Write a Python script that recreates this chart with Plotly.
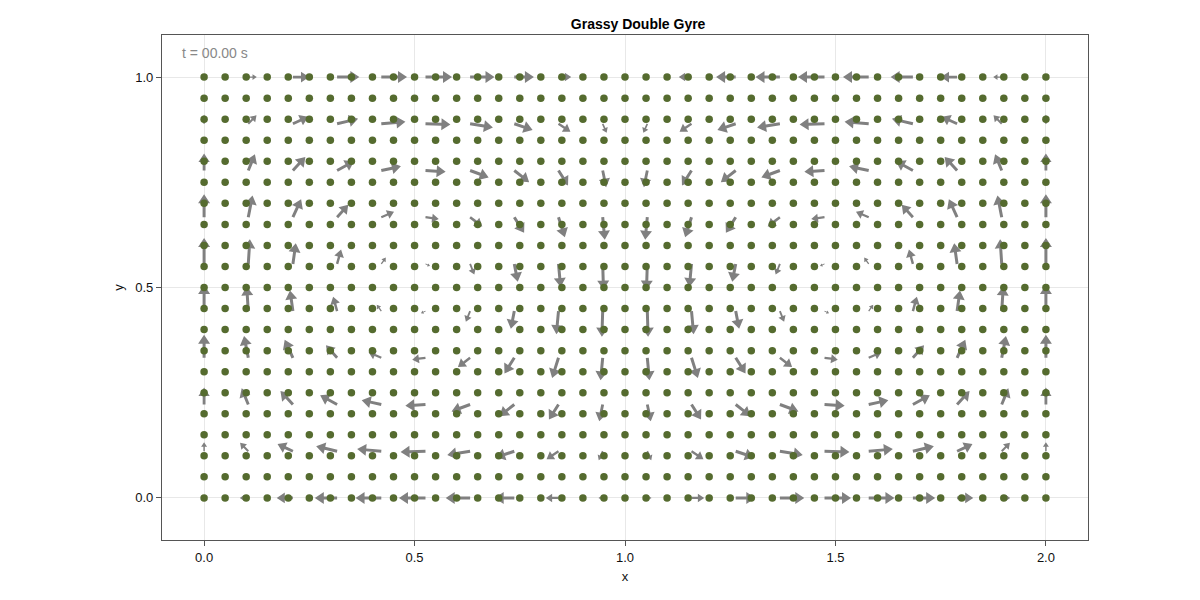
import math
import plotly.graph_objects as go

# ---------------- data ----------------
# background "grass" dots grid
dot_x = [0.00, 0.05, 0.10, 0.15, 0.20, 0.25, 0.30, 0.35, 0.40, 0.45, 0.50,
         0.55, 0.60, 0.65, 0.70, 0.75, 0.80, 0.85, 0.90, 0.95, 1.00,
         1.05, 1.10, 1.15, 1.20, 1.25, 1.30, 1.35, 1.40, 1.45, 1.50,
         1.55, 1.60, 1.65, 1.70, 1.75, 1.80, 1.85, 1.90, 1.95, 2.00]
dot_y = [0.00, 0.05, 0.10, 0.15, 0.20, 0.25, 0.30, 0.35, 0.40, 0.45, 0.50,
         0.55, 0.60, 0.65, 0.70, 0.75, 0.80, 0.85, 0.90, 0.95, 1.00]

# arrow origins
arrow_x = [0.000, 0.105, 0.211, 0.316, 0.421, 0.526, 0.632, 0.737, 0.842, 0.947,
           1.053, 1.158, 1.263, 1.368, 1.474, 1.579, 1.684, 1.789, 1.895, 2.000]
arrow_y = [0.000, 0.111, 0.222, 0.333, 0.444, 0.556, 0.667, 0.778, 0.889, 1.000]

# velocity components, one row per arrow_y value
U = [
    [0, -0.32, -0.61, -0.84, -0.97, -1.00, -0.92, -0.74, -0.48, -0.16, 0.16, 0.48, 0.74, 0.92, 1.00, 0.97, 0.84, 0.61, 0.32, 0],
    [0, -0.31, -0.58, -0.79, -0.91, -0.94, -0.86, -0.69, -0.45, -0.15, 0.15, 0.45, 0.69, 0.86, 0.94, 0.91, 0.79, 0.58, 0.31, 0],
    [0, -0.25, -0.47, -0.64, -0.74, -0.76, -0.70, -0.56, -0.36, -0.13, 0.13, 0.36, 0.56, 0.70, 0.76, 0.74, 0.64, 0.47, 0.25, 0],
    [0, -0.16, -0.31, -0.42, -0.48, -0.50, -0.46, -0.37, -0.24, -0.08, 0.08, 0.24, 0.37, 0.46, 0.50, 0.48, 0.42, 0.31, 0.16, 0],
    [0, -0.06, -0.11, -0.15, -0.17, -0.17, -0.16, -0.13, -0.08, -0.03, 0.03, 0.08, 0.13, 0.16, 0.17, 0.17, 0.15, 0.11, 0.06, 0],
    [0, 0.06, 0.11, 0.15, 0.17, 0.17, 0.16, 0.13, 0.08, 0.03, -0.03, -0.08, -0.13, -0.16, -0.17, -0.17, -0.15, -0.11, -0.06, 0],
    [0, 0.16, 0.31, 0.42, 0.48, 0.50, 0.46, 0.37, 0.24, 0.08, -0.08, -0.24, -0.37, -0.46, -0.50, -0.48, -0.42, -0.31, -0.16, 0],
    [0, 0.25, 0.47, 0.64, 0.74, 0.76, 0.70, 0.56, 0.36, 0.13, -0.13, -0.36, -0.56, -0.70, -0.76, -0.74, -0.64, -0.47, -0.25, 0],
    [0, 0.31, 0.58, 0.79, 0.91, 0.94, 0.86, 0.69, 0.45, 0.15, -0.15, -0.45, -0.69, -0.86, -0.94, -0.91, -0.79, -0.58, -0.31, 0],
    [0, 0.32, 0.61, 0.84, 0.97, 1.00, 0.92, 0.74, 0.48, 0.16, -0.16, -0.48, -0.74, -0.92, -1.00, -0.97, -0.84, -0.61, -0.32, 0],
]
V = [
    [0] * 20,
    [0.34, 0.32, 0.27, 0.19, 0.08, -0.03, -0.14, -0.23, -0.30, -0.34, -0.34, -0.30, -0.23, -0.14, -0.03, 0.08, 0.19, 0.27, 0.32, 0.34],
    [0.64, 0.61, 0.51, 0.35, 0.16, -0.05, -0.26, -0.44, -0.57, -0.63, -0.63, -0.57, -0.44, -0.26, -0.05, 0.16, 0.35, 0.51, 0.61, 0.64],
    [0.87, 0.82, 0.68, 0.47, 0.21, -0.07, -0.35, -0.59, -0.76, -0.85, -0.85, -0.76, -0.59, -0.35, -0.07, 0.21, 0.47, 0.68, 0.82, 0.87],
    [0.98, 0.93, 0.78, 0.54, 0.24, -0.08, -0.40, -0.67, -0.87, -0.97, -0.97, -0.87, -0.67, -0.40, -0.08, 0.24, 0.54, 0.78, 0.93, 0.98],
    [0.98, 0.93, 0.78, 0.54, 0.24, -0.08, -0.40, -0.67, -0.87, -0.97, -0.97, -0.87, -0.67, -0.40, -0.08, 0.24, 0.54, 0.78, 0.93, 0.98],
    [0.87, 0.82, 0.68, 0.47, 0.21, -0.07, -0.35, -0.59, -0.76, -0.85, -0.85, -0.76, -0.59, -0.35, -0.07, 0.21, 0.47, 0.68, 0.82, 0.87],
    [0.64, 0.61, 0.51, 0.35, 0.16, -0.05, -0.26, -0.44, -0.57, -0.63, -0.63, -0.57, -0.44, -0.26, -0.05, 0.16, 0.35, 0.51, 0.61, 0.64],
    [0.34, 0.32, 0.27, 0.19, 0.08, -0.03, -0.14, -0.23, -0.30, -0.34, -0.34, -0.30, -0.23, -0.14, -0.03, 0.08, 0.19, 0.27, 0.32, 0.34],
    [0] * 20,
]

x_ticks = [0.0, 0.5, 1.0, 1.5, 2.0]
y_ticks = [0.0, 0.5, 1.0]
title_text = "Grassy Double Gyre"
time_label = "t = 00.00 s"

# ---------------- layout constants ----------------
W, H = 1200, 600
# the page body adds an 8px offset, margins compensate for it
ML, MR, MT, MB = 154, 120, 27, 68
XR = [-0.1, 2.1]
YR = [-0.1, 1.1]
PXX = (W - ML - MR) / (XR[1] - XR[0])   # px per data unit (x)
PXY = (H - MT - MB) / (YR[1] - YR[0])   # px per data unit (y)

LENGTHSCALE = 0.063   # data units per unit of velocity
TIPLEN, TIPW, SHAFTW, MINSHAFT = 9.0, 12.0, 3.0, 9.0

# build arrow polygons (pixel-space geometry mapped back to data units)
ax_poly, ay_poly = [], []
for j, y0 in enumerate(arrow_y):
    for i, x0 in enumerate(arrow_x):
        u, v = U[j][i], V[j][i]
        m = math.hypot(u, v)
        if m == 0:
            continue
        L = m * LENGTHSCALE * PXX
        k = min(1.0, L / (TIPLEN + MINSHAFT))
        tl, tw, sw = TIPLEN * k, TIPW * k, SHAFTW * k
        dx, dy = u / m, v / m
        nx, ny = -dy, dx
        s_end = L - tl
        pts = [
            (nx * sw / 2, ny * sw / 2),
            (dx * s_end + nx * sw / 2, dy * s_end + ny * sw / 2),
            (dx * s_end + nx * tw / 2, dy * s_end + ny * tw / 2),
            (dx * L, dy * L),
            (dx * s_end - nx * tw / 2, dy * s_end - ny * tw / 2),
            (dx * s_end - nx * sw / 2, dy * s_end - ny * sw / 2),
            (-nx * sw / 2, -ny * sw / 2),
            (nx * sw / 2, ny * sw / 2),
        ]
        for px, py in pts:
            ax_poly.append(x0 + px / PXX)
            ay_poly.append(y0 + py / PXY)
        ax_poly.append(None)
        ay_poly.append(None)

gx = [x for y in dot_y for x in dot_x]
gy = [y for y in dot_y for x in dot_x]

fig = go.Figure()
fig.add_trace(go.Scatter(
    x=ax_poly, y=ay_poly, mode="lines", fill="toself",
    fillcolor="rgb(128,128,128)", line=dict(width=0, color="rgba(128,128,128,0)"),
    hoverinfo="skip", showlegend=False,
))
fig.add_trace(go.Scatter(
    x=gx, y=gy, mode="markers",
    marker=dict(size=7.5, color="#556B2F", line=dict(width=0)),
    showlegend=False,
))

FONT = "Liberation Sans, Arial, sans-serif"
axis_common = dict(
    showline=True, mirror=True, linecolor="#555555", linewidth=1.2,
    ticks="outside", ticklen=5, tickcolor="#555555", tickwidth=1,
    showgrid=True, gridcolor="#e8e8e8", gridwidth=1, zeroline=False,
    tickfont=dict(family=FONT, size=13, color="#111111"),
)
fig.update_layout(
    width=W, height=H,
    margin=dict(l=ML, r=MR, t=MT, b=MB, pad=0),
    paper_bgcolor="white", plot_bgcolor="white",
    title=dict(text="<b>" + title_text + "</b>", x=(ML + (W - ML - MR) / 2) / W,
               xanchor="center", xref="paper", y=1 - 16 / H, yanchor="middle",
               font=dict(family=FONT, size=14, color="#000000")),
    xaxis=dict(range=XR, tickvals=x_ticks, ticktext=[f"{t:.1f}" for t in x_ticks],
               title=dict(text="x", font=dict(family=FONT, size=13, color="#111111"), standoff=8),
               **axis_common),
    yaxis=dict(range=YR, tickvals=y_ticks, ticktext=[f"{t:.1f}" for t in y_ticks],
               title=dict(text="y", font=dict(family=FONT, size=13, color="#111111"), standoff=8),
               **axis_common),
    showlegend=False,
)
fig.add_annotation(
    x=-0.057, y=1.057, xref="x", yref="y", text=time_label, showarrow=False,
    xanchor="left", yanchor="middle",
    font=dict(family=FONT, size=14, color="#888888"),
)

fig.write_html("out.html")
